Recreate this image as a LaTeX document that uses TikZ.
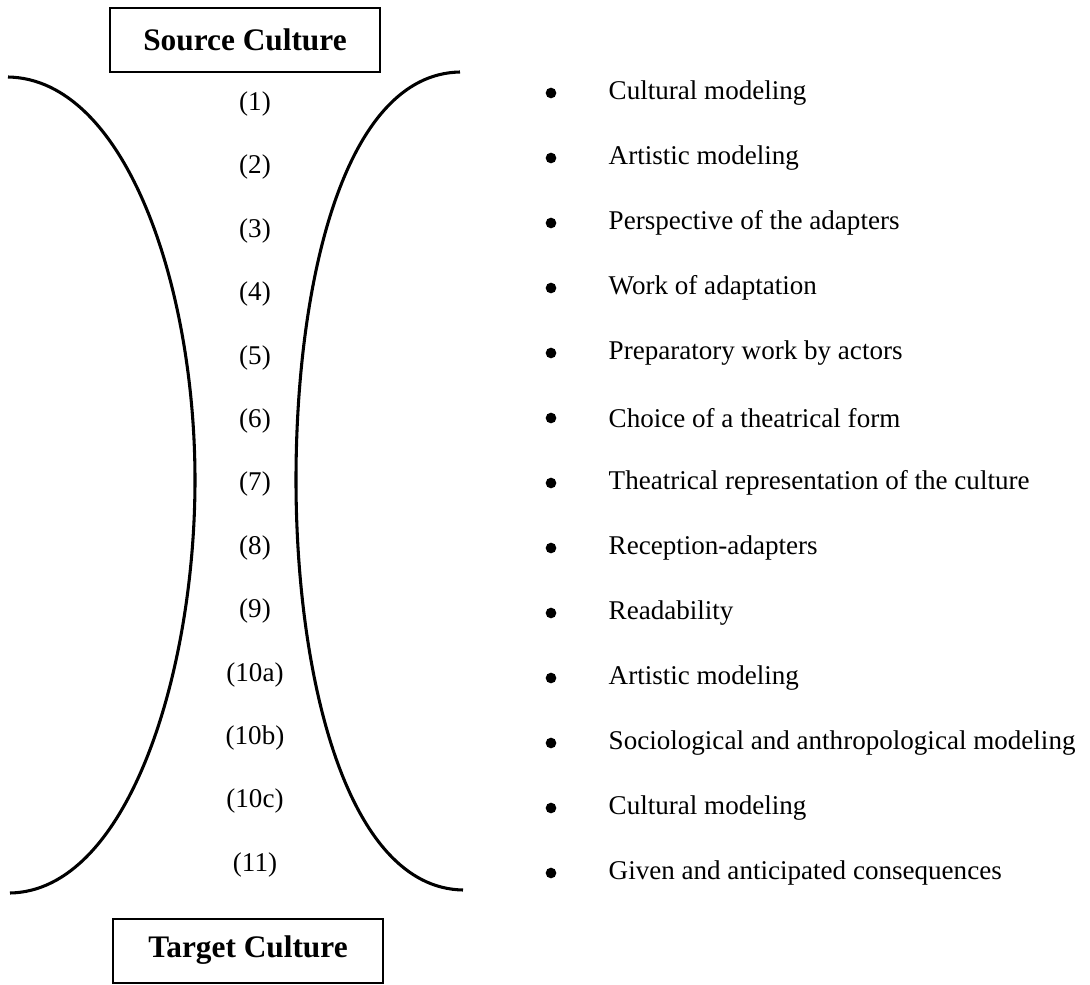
\documentclass[tikz,border=0pt]{standalone}
\usepackage{fontspec}
\setmainfont{Liberation Serif}
\usepackage{tikz}
\tikzset{cultbox/.style={draw, line width=1.5pt, minimum width=202pt, minimum height=48pt,
  font=\fontsize{23.5}{28}\selectfont\bfseries}}
\tikzset{stage/.style={font=\fontsize{20.3}{24}\selectfont}}
\tikzset{item/.style={anchor=west, font=\fontsize{20.3}{24}\selectfont}}
\tikzset{dot/.style={circle, fill, inner sep=0pt, minimum size=8pt}}

\begin{document}
\begin{tikzpicture}[x=0.75pt, y=-0.75pt]
\useasboundingbox (0,0) rectangle (1090,985);

\node[cultbox] (source) at (245, 39.5) {Source Culture};
\node[cultbox] (target) at (248, 950.5) {Target Culture};

% the two brackets
\draw[line width=2.3pt] (8,77) .. controls (125,79) and (195,285) .. (195,480)
  .. controls (195,675) and (127,891) .. (10,893);
\draw[line width=2.3pt] (460,72) .. controls (343,74) and (296,285) .. (296,480)
  .. controls (296,675) and (346,888) .. (463,890);

\node[stage] (s1) at (255, 104) {(1)};
\node[stage] (s2) at (255, 167.4) {(2)};
\node[stage] (s3) at (255, 230.8) {(3)};
\node[stage] (s4) at (255, 294.2) {(4)};
\node[stage] (s5) at (255, 357.6) {(5)};
\node[stage] (s6) at (255, 421) {(6)};
\node[stage] (s7) at (255, 484.4) {(7)};
\node[stage] (s8) at (255, 547.8) {(8)};
\node[stage] (s9) at (255, 611.2) {(9)};
\node[stage] (s10a) at (255, 674.6) {(10a)};
\node[stage] (s10b) at (255, 738) {(10b)};
\node[stage] (s10c) at (255, 801.4) {(10c)};
\node[stage] (s11) at (255, 864.8) {(11)};

\node[dot] (d1) at (551, 93) {};
\node[dot] (d2) at (551, 158) {};
\node[dot] (d3) at (551, 223) {};
\node[dot] (d4) at (551, 288) {};
\node[dot] (d5) at (551, 353) {};
\node[dot] (d6) at (551, 418) {};
\node[dot] (d7) at (551, 483) {};
\node[dot] (d8) at (551, 548) {};
\node[dot] (d9) at (551, 613) {};
\node[dot] (d10a) at (551, 678) {};
\node[dot] (d10b) at (551, 743) {};
\node[dot] (d10c) at (551, 808) {};
\node[dot] (d11) at (551, 873) {};

\node[item] (t1) at (604, 93) {Cultural modeling};
\node[item] (t2) at (604, 158) {Artistic modeling};
\node[item] (t3) at (604, 223) {Perspective of the adapters};
\node[item] (t4) at (604, 288) {Work of adaptation};
\node[item] (t5) at (604, 353) {Preparatory work by actors};
\node[item] (t6) at (604, 418) {Choice of a theatrical form};
\node[item] (t7) at (604, 483) {Theatrical representation of the culture};
\node[item] (t8) at (604, 548) {Reception-adapters};
\node[item] (t9) at (604, 613) {Readability};
\node[item] (t10a) at (604, 678) {Artistic modeling};
\node[item] (t10b) at (604, 743) {Sociological and anthropological modeling};
\node[item] (t10c) at (604, 808) {Cultural modeling};
\node[item] (t11) at (604, 873) {Given and anticipated consequences};
\end{tikzpicture}
\end{document}
